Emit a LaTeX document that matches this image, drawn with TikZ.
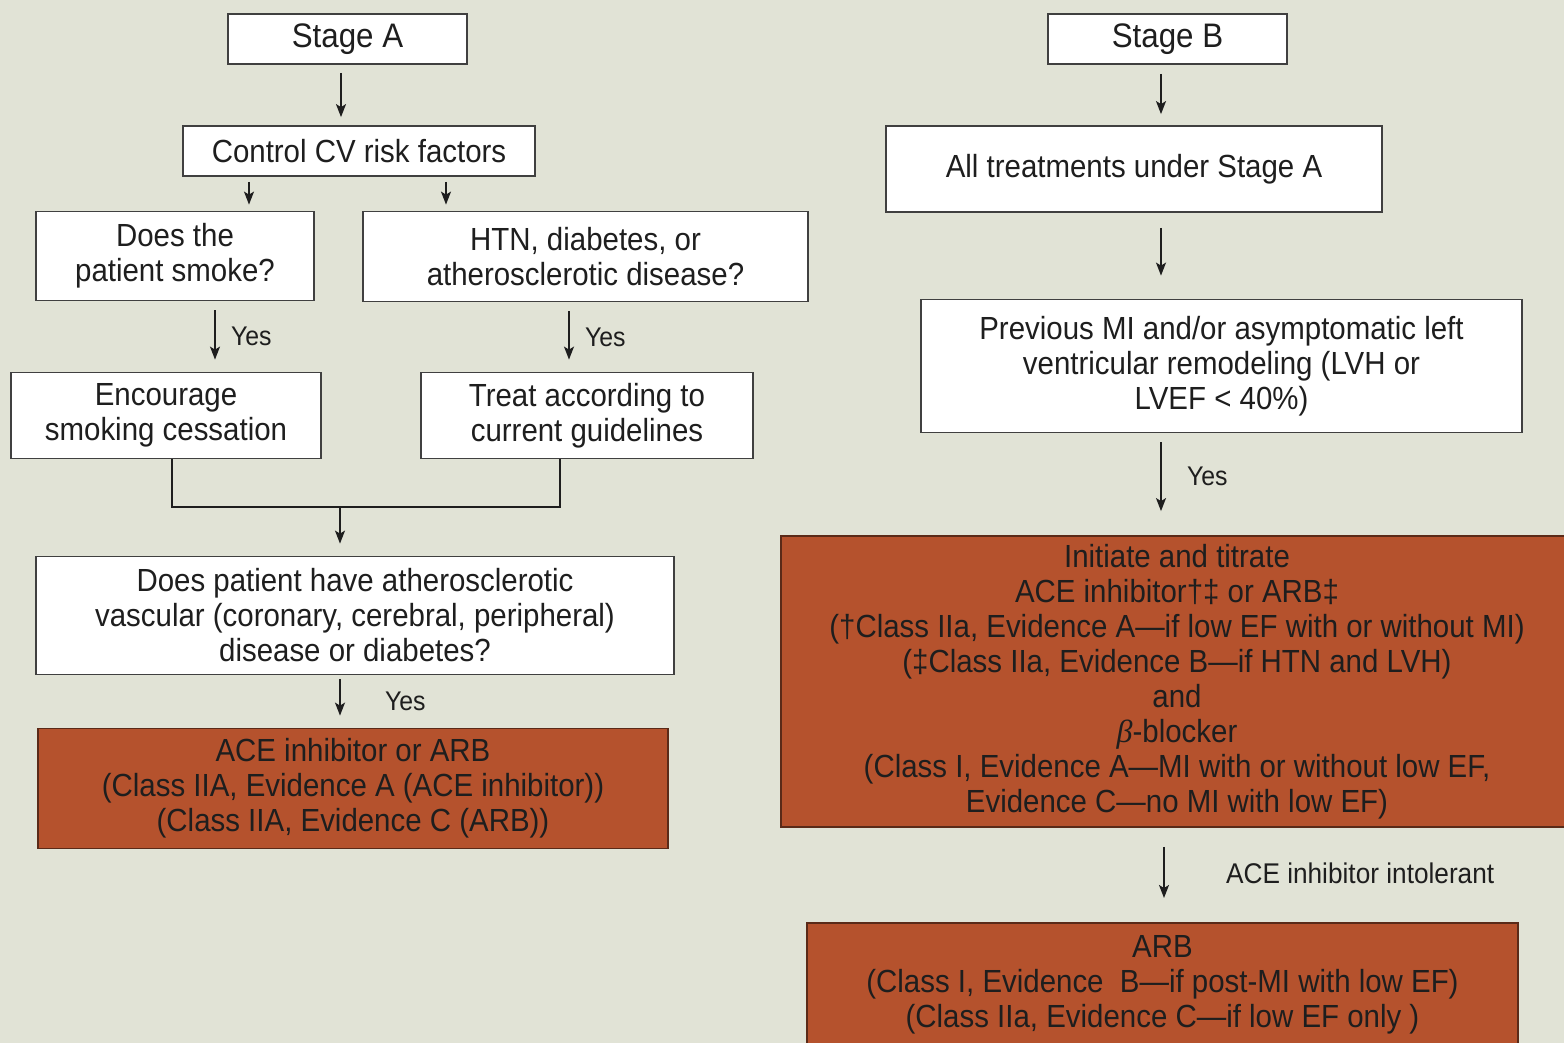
\documentclass[tikz,border=0pt]{standalone}
\usepackage{fontspec}
\setmainfont{Liberation Sans}[FakeStretch=0.92]
\newfontfamily\grkfont{Liberation Serif}
\usetikzlibrary{arrows.meta,positioning}

\definecolor{paper}{HTML}{E1E3D6}
\definecolor{rust}{HTML}{B5522D}
\definecolor{rustline}{HTML}{5A2A18}
\definecolor{ink}{HTML}{1E1E1E}

\begin{document}
\begin{tikzpicture}[x=1pt,y=-1pt,
    font=\fontsize{32}{35}\selectfont, text=ink,
    box/.style={draw=ink!85,line width=1.8pt,fill=white,rectangle,align=center,inner sep=0pt},
    stagebox/.style={box,font=\fontsize{34}{36}\selectfont},
    treatbox/.style={box,draw=rustline,fill=rust},
    arr/.style={line width=1.5pt,draw=ink,-{Stealth[length=13pt,width=10pt,inset=3pt]}},
    link/.style={line width=1.5pt,draw=ink},
    yes/.style={font=\fontsize{27}{30}\selectfont,anchor=west}]
  % page
  \fill[paper] (0,0) rectangle (1564,1043);
  \useasboundingbox (0,0) rectangle (1564,1043);
  \clip (0,0) rectangle (1564,1043);

  % Stage A column
  \node (sa) [stagebox,minimum width=239,minimum height=50] at (347.5,39) {Stage A};
  \node (ctl) [box,minimum width=352,minimum height=50] at (359,151) {Control CV risk factors};
  \node (smk) [box,minimum width=278,minimum height=89] at (175,256) {Does the\\patient smoke?};
  \node (htn) [box,minimum width=445,minimum height=90] at (585.5,256.5) {HTN, diabetes, or\\atherosclerotic disease?};
  \node (enc) [box,minimum width=310,minimum height=86] at (166,415.5) {Encourage\\smoking cessation};
  \node (trt) [box,minimum width=332,minimum height=86] at (587,415.5) {Treat according to\\current guidelines};
  \node (ath) [box,minimum width=638,minimum height=118] at (355,615.5)
    {Does patient have atherosclerotic\\vascular (coronary, cerebral, peripheral)\\disease or diabetes?};
  \node (acel) [treatbox,minimum width=630,minimum height=120] at (353,788.5)
    {ACE inhibitor or ARB\\(Class IIA, Evidence A (ACE inhibitor))\\(Class IIA, Evidence C (ARB))};

  % Stage B column
  \node (sb) [stagebox,minimum width=239,minimum height=50] at (1167.5,39) {Stage B};
  \node (allA) [box,minimum width=496,minimum height=86] at (1134,169) {All treatments under Stage A};
  \node (prev) [box,minimum width=601,minimum height=133] at (1221.5,366)
    {Previous MI and/or asymptomatic left\\ventricular remodeling (LVH or\\LVEF < 40\%)};
  \node (init) [treatbox,minimum width=792,minimum height=291] at (1177,681.5)
    {Initiate and titrate\\ACE inhibitor†‡ or ARB‡\\(†Class IIa, Evidence A—if low EF with or without MI)\\(‡Class IIa, Evidence B—if HTN and LVH)\\and\\{\grkfont\itshape β}-blocker\\(Class I, Evidence A—MI with or without low EF,\\Evidence C—no MI with low EF)};
  \node (arb) [treatbox,minimum width=711,inner ysep=13pt,text depth=80pt,anchor=north] at (1162.5,922)
    {ARB\\(Class I, Evidence\ \ B—if post-MI with low EF)\\(Class IIa, Evidence C—if low EF only )};

  % connectors, Stage A
  \draw[arr,shorten <=8pt,shorten >=8pt] (341,0 |- sa.south) -- (341,0 |- ctl.north);
  \draw[arr,shorten <=5pt,shorten >=6pt] (249,0 |- ctl.south) -- (249,0 |- smk.north);
  \draw[arr,shorten <=5pt,shorten >=6pt] (446,0 |- ctl.south) -- (446,0 |- htn.north);
  \draw[arr,shorten <=9pt,shorten >=12pt] (215,0 |- smk.south) -- (215,0 |- enc.north)
    node[yes,midway,right=12pt] (y1) {Yes};
  \draw[arr,shorten <=9pt,shorten >=12pt] (569,0 |- htn.south) -- (569,0 |- trt.north)
    node[yes,midway,right=12pt] (y2) {Yes};
  \coordinate (join) at (340,507);
  \draw[link] (172,0 |- enc.south) -- (172,0 |- join) -- (560,0 |- join) -- (560,0 |- trt.south);
  \draw[arr,shorten >=12pt] (join) -- (join |- ath.north);
  \draw[arr,shorten <=4pt,shorten >=12pt] (340,0 |- ath.south) -- (340,0 |- acel.north)
    node[yes,midway,right=41pt] (y3) {Yes};

  % connectors, Stage B
  \draw[arr,shorten <=9pt,shorten >=11pt] (1161,0 |- sb.south) -- (1161,0 |- allA.north);
  \draw[arr,shorten <=15pt,shorten >=23pt] (1161,0 |- allA.south) -- (1161,0 |- prev.north);
  \draw[arr,shorten <=9pt,shorten >=24pt] (1161,0 |- prev.south) -- (1161,0 |- init.north)
    node[yes,pos=0.42,right=22pt] (y4) {Yes};
  \draw[arr,shorten <=19pt,shorten >=24pt] (1164,0 |- init.south) -- (1164,0 |- arb.north)
    node[yes,pos=0.48,right=58pt,font=\fontsize{28.5}{30}\selectfont] (intol) {ACE inhibitor intolerant};
\end{tikzpicture}
\end{document}
